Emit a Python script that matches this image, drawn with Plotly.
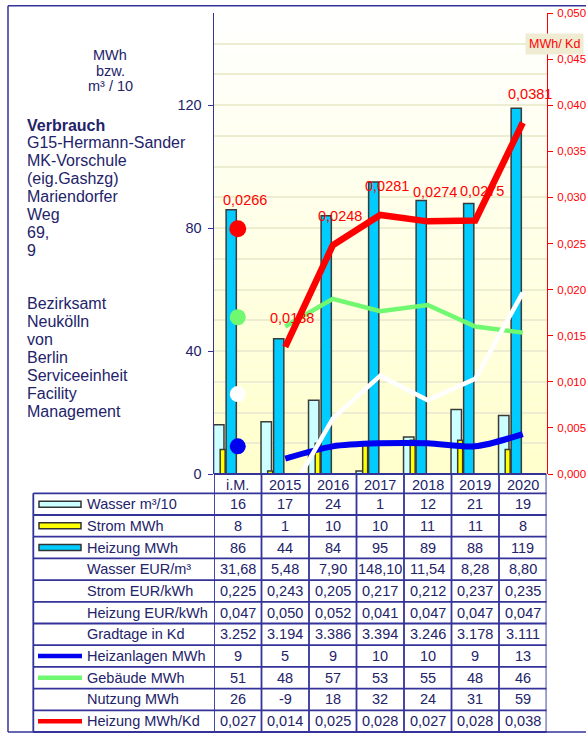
import plotly.graph_objects as go

# ---------------- data ----------------
categories = ["i.M.", "2015", "2016", "2017", "2018", "2019", "2020"]
wasser = [16, 17, 24, 1, 12, 21, 19]            # m³/10
strom = [8, 1, 10, 10, 11, 11, 8]               # MWh
heizung = [86, 44, 84, 95, 89, 88, 119]         # MWh
heizanlagen = [9, 5, 9, 10, 10, 9, 13]          # MWh
gebaeude = [51, 48, 57, 53, 55, 48, 46]         # MWh
nutzung = [26, -9, 18, 32, 24, 31, 59]          # MWh
heizung_kd = [0.0266, 0.0138, 0.0248, 0.0281, 0.0274, 0.0275, 0.0381]  # MWh/Kd
heizung_kd_labels = ["0,0266", "0,0138", "0,0248", "0,0281", "0,0274", "0,0275", "0,0381"]

wasser_eur = [31.68, 5.48, 7.90, 148.10, 11.54, 8.28, 8.80]
strom_eur = [0.225, 0.243, 0.205, 0.217, 0.212, 0.237, 0.235]
heizung_eur = [0.047, 0.050, 0.052, 0.041, 0.047, 0.047, 0.047]
gradtage = [3252, 3194, 3386, 3394, 3246, 3178, 3111]
heizung_kd_table = ["0,027", "0,014", "0,025", "0,028", "0,027", "0,028", "0,038"]

row_labels = ["Wasser m³/10", "Strom MWh", "Heizung MWh", "Wasser EUR/m³",
              "Strom EUR/kWh", "Heizung EUR/kWh", "Gradtage in Kd",
              "Heizanlagen MWh", "Gebäude MWh", "Nutzung MWh", "Heizung MWh/Kd"]

left_ticks = [0, 40, 80, 120]
unit_lines = ["MWh", "bzw.", "m³ / 10"]
info_lines_1 = ["Verbrauch", "G15-Hermann-Sander", "MK-Vorschule", "(eig.Gashzg)",
                "Mariendorfer", "Weg", "69,", "9"]
info_lines_2 = ["Bezirksamt", "Neukölln", "von", "Berlin", "Serviceeinheit",
                "Facility", "Management"]

# ---------------- helpers / styles ----------------
W, H = 586, 733
def px(x):           # page pixel -> paper fraction
    return x / W
def py(y):
    return 1 - y / H

NAVY = "#23236A"
LINE_NAVY = "#33339A"
FONT = "Liberation Sans, Arial, sans-serif"
C_WASSER = "#CCFFFF"
C_STROM = "#FFFF00"
C_HEIZ = "#00CCFF"
C_BLUE = "#0000F0"
C_GREEN = "#70F870"
C_RED = "#FF0000"

def fmt_int(v):
    return str(v)
def fmt_dec(v, n):
    return f"{v:.{n}f}".replace(".", ",")
def fmt_thousand(v):
    return f"{v:,}".replace(",", ".")

table_rows = [
    [fmt_int(v) for v in wasser],
    [fmt_int(v) for v in strom],
    [fmt_int(v) for v in heizung],
    [fmt_dec(v, 2) for v in wasser_eur],
    [fmt_dec(v, 3) for v in strom_eur],
    [fmt_dec(v, 3) for v in heizung_eur],
    [fmt_thousand(v) for v in gradtage],
    [fmt_int(v) for v in heizanlagen],
    [fmt_int(v) for v in gebaeude],
    [fmt_int(v) for v in nutzung],
    heizung_kd_table,
]

xs = list(range(len(categories)))
fig = go.Figure()

fig.add_trace(go.Bar(x=xs, y=wasser, offset=-0.51, width=0.22,
                     marker=dict(color=C_WASSER, line=dict(color="#3A3A3A", width=1.5))))
fig.add_trace(go.Bar(x=xs, y=strom, offset=-0.37, width=0.105,
                     marker=dict(color=C_STROM, line=dict(color="#3A3A3A", width=1.5))))
fig.add_trace(go.Bar(x=xs, y=heizung, offset=-0.245, width=0.215,
                     marker=dict(color=C_HEIZ, line=dict(color="#3A3A3A", width=1.5))))

fig.add_trace(go.Scatter(x=xs[1:], y=heizanlagen[1:], mode="lines",
                         line=dict(color=C_BLUE, width=6, shape="spline", smoothing=0.8)))
fig.add_trace(go.Scatter(x=xs[1:], y=gebaeude[1:], mode="lines",
                         line=dict(color=C_GREEN, width=4.5)))
fig.add_trace(go.Scatter(x=xs[1:], y=nutzung[1:], mode="lines",
                         line=dict(color="#FFFFFF", width=4.5)))
fig.add_trace(go.Scatter(x=xs[1:], y=heizung_kd[1:], mode="lines", yaxis="y2",
                         line=dict(color=C_RED, width=6.5)))

fig.add_trace(go.Scatter(x=[xs[0]], y=[heizanlagen[0]], mode="markers",
                         marker=dict(color=C_BLUE, size=16)))
fig.add_trace(go.Scatter(x=[xs[0]], y=[gebaeude[0]], mode="markers",
                         marker=dict(color=C_GREEN, size=16)))
fig.add_trace(go.Scatter(x=[xs[0]], y=[nutzung[0]], mode="markers",
                         marker=dict(color="#FFFFFF", size=16)))
fig.add_trace(go.Scatter(x=[xs[0]], y=[heizung_kd[0]], mode="markers", yaxis="y2",
                         marker=dict(color=C_RED, size=17)))

shapes = []
annotations = []

# gradient plot background
NB = 46
for i in range(NB):
    t = (i + 0.5) / NB
    b = int(round(204 + (255 - 204) * t))
    shapes.append(dict(type="rect", xref="x domain", yref="y domain",
                       x0=0, x1=1, y0=i / NB, y1=(i + 1) / NB,
                       fillcolor=f"rgb(255,255,{b})", line=dict(width=0),
                       layer="below"))

# outer frame (left, top, bottom edges; right edge lies outside the window)
for (x0, y0, x1, y1) in [(8, 5.7, 8, 732), (8, 5.7, 586, 5.7), (8, 732, 586, 732)]:
    shapes.append(dict(type="line", xref="paper", yref="paper",
                       x0=px(x0), y0=py(y0), x1=px(x1), y1=py(y1),
                       line=dict(color=LINE_NAVY, width=1.5)))

# table geometry
HEAD_TOP = 474
ROW0 = 493.3
ROWH = 21.7
NROW = len(row_labels)
TBL_LEFT = 33.3
TBL_BOTTOM = ROW0 + ROWH * NROW
LW = 1.8

shapes.append(dict(type="line", xref="x", yref="paper", x0=-0.5, x1=len(xs) - 0.5,
                   y0=py(HEAD_TOP), y1=py(HEAD_TOP), line=dict(color=LINE_NAVY, width=LW)))
for k in range(NROW + 1):
    yy = py(ROW0 + k * ROWH)
    shapes.append(dict(type="line", xref="paper", yref="paper", x0=px(TBL_LEFT), x1=px(546.5),
                       y0=yy, y1=yy, line=dict(color=LINE_NAVY, width=LW)))
shapes.append(dict(type="line", xref="paper", yref="paper", x0=px(TBL_LEFT), x1=px(TBL_LEFT),
                   y0=py(ROW0), y1=py(TBL_BOTTOM), line=dict(color=LINE_NAVY, width=LW)))
for j in range(len(xs) + 1):
    shapes.append(dict(type="line", xref="x", yref="paper", x0=j - 0.5, x1=j - 0.5,
                       y0=py(HEAD_TOP), y1=py(TBL_BOTTOM), line=dict(color=LINE_NAVY, width=LW)))

for j, c in enumerate(categories):
    annotations.append(dict(x=j, y=py((HEAD_TOP + ROW0) / 2 + 1), xref="x", yref="paper",
                            text=c, showarrow=False, xanchor="center", yanchor="middle",
                            font=dict(family=FONT, size=14.5, color=NAVY)))

swatch = {0: ("rect", C_WASSER), 1: ("rect", C_STROM), 2: ("rect", C_HEIZ),
          7: ("line", C_BLUE), 8: ("line", C_GREEN), 10: ("line", C_RED)}
for k, lab in enumerate(row_labels):
    yc = ROW0 + ROWH * (k + 0.5)
    annotations.append(dict(x=px(85), y=py(yc), xref="paper", yref="paper", text=lab,
                            showarrow=False, xanchor="left", yanchor="middle",
                            font=dict(family=FONT, size=14.5, color=NAVY)))
    for j, v in enumerate(table_rows[k]):
        annotations.append(dict(x=j, y=py(yc), xref="x", yref="paper", text=v,
                                showarrow=False, xanchor="center", yanchor="middle",
                                font=dict(family=FONT, size=14.5, color=NAVY)))
    if k in swatch:
        kind, col = swatch[k]
        if kind == "rect":
            shapes.append(dict(type="rect", xref="paper", yref="paper",
                               x0=px(39), x1=px(81), y0=py(yc + 3), y1=py(yc - 3),
                               fillcolor=col, line=dict(color="#333333", width=1.5)))
        else:
            shapes.append(dict(type="line", xref="paper", yref="paper",
                               x0=px(38), x1=px(82), y0=py(yc), y1=py(yc),
                               line=dict(color=col, width=4.5)))

for j, (v, t) in enumerate(zip(heizung_kd, heizung_kd_labels)):
    annotations.append(dict(x=j, y=v, xref="x", yref="y2", text=t, showarrow=False,
                            xanchor="center", yanchor="middle", yshift=29, xshift=7,
                            font=dict(family=FONT, size=14.5, color=C_RED)))

for i, t in enumerate(unit_lines):
    annotations.append(dict(x=px(110), y=py(55 + 15.5 * i), xref="paper", yref="paper",
                            text=t, showarrow=False, xanchor="center", yanchor="middle",
                            font=dict(family=FONT, size=14.5, color=NAVY)))

for i, t in enumerate(info_lines_1):
    annotations.append(dict(x=px(25), y=py(125 + 17.9 * i), xref="paper", yref="paper",
                            text=f"<b>{t}</b>" if i == 0 else t, showarrow=False,
                            xanchor="left", yanchor="middle",
                            font=dict(family=FONT, size=16, color=NAVY)))
for i, t in enumerate(info_lines_2):
    annotations.append(dict(x=px(25), y=py(303.5 + 18 * i), xref="paper", yref="paper",
                            text=t, showarrow=False, xanchor="left", yanchor="middle",
                            font=dict(family=FONT, size=16, color=NAVY)))

annotations.append(dict(x=px(525), y=py(44), xref="paper", yref="paper", text="MWh/ Kd",
                        showarrow=False, xanchor="left", yanchor="middle",
                        bgcolor="#EFECD3", borderpad=3,
                        font=dict(family=FONT, size=12.5, color=C_RED)))

fig.update_layout(
    width=W, height=H,
    margin=dict(l=0, r=0, t=0, b=0, autoexpand=False),
    paper_bgcolor="white", plot_bgcolor="rgba(0,0,0,0)",
    showlegend=False, barmode="overlay", separators=",.",
    font=dict(family=FONT, color=NAVY), hovermode=False,
    xaxis=dict(domain=[px(214), px(546.5)], range=[-0.5, len(xs) - 0.5], automargin=False,
               showticklabels=False, showgrid=False, zeroline=False, showline=False,
               ticks="", fixedrange=True),
    yaxis=dict(domain=[py(474), py(13)], range=[0, 150], tickvals=left_ticks,
               automargin=False,
               showgrid=True, gridcolor="#EDEDD2", gridwidth=2,
               minor=dict(dtick=10, showgrid=True, gridcolor="#EDEDD2", gridwidth=2),
               zeroline=False, showline=True, linecolor=LINE_NAVY, linewidth=1.5,
               ticks="outside", ticklen=5, tickcolor=LINE_NAVY,
               tickfont=dict(family=FONT, size=14.5, color=NAVY), ticklabelstandoff=3),
    yaxis2=dict(overlaying="y", side="right", anchor="x", range=[0, 0.05], dtick=0.005,
                automargin=False,
                tickformat=".3f", showgrid=False, zeroline=False, showline=True,
                linecolor=C_RED, linewidth=1.5, ticks="outside", ticklen=5, tickcolor=C_RED,
                tickfont=dict(family=FONT, size=11.5, color=C_RED), ticklabelstandoff=2),
    shapes=shapes, annotations=annotations,
)

fig.write_html("out.html", config={"displayModeBar": False, "staticPlot": True},
               post_script="document.body.style.margin='0px';"
                           "document.body.style.overflow='hidden';")
